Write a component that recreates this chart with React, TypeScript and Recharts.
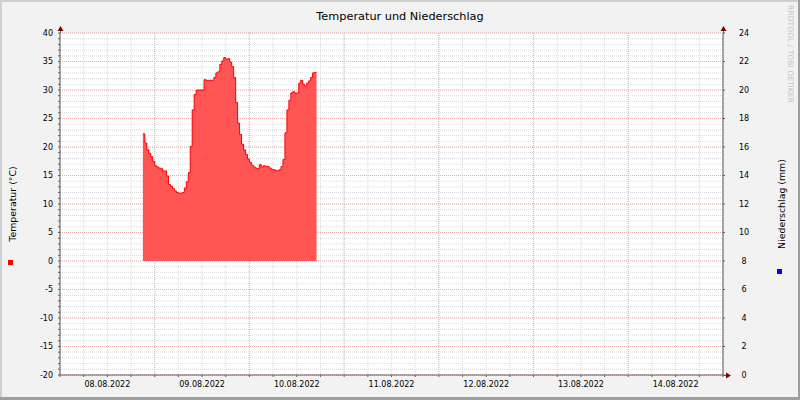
import React from 'react';
import { ComposedChart, Area, XAxis, YAxis, CartesianGrid } from 'recharts';

// hours since 08.08.2022 00:00, samples every 30 min
const SAMPLE_START_H = 21;
const SAMPLE_STEP_H = 0.5;

const temperatures = [
  22.3, 20.7, 19.5, 18.9, 18.3, 17.5, 16.7, 16.5, 16.3, 16.2,
  15.8, 15.8, 14.9, 13.4, 13.1, 12.7, 12.3, 12.0, 11.9, 11.9,
  12.0, 12.8, 13.9, 15.5, 20.1, 26.5, 29.2, 30.0, 30.0, 30.0,
  30.0, 31.8, 31.7, 31.7, 31.7, 31.7, 32.2, 33.0, 33.2, 34.5,
  35.1, 35.7, 35.4, 35.5, 34.9, 34.1, 32.2, 27.8, 24.2, 22.2,
  20.5, 19.5, 18.7, 17.9, 17.3, 16.8, 16.5, 16.3, 16.2, 16.9,
  16.5, 16.7, 16.6, 16.6, 16.3, 16.1, 16.0, 15.9, 15.8, 16.0,
  16.6, 17.8, 22.5, 26.5, 28.2, 29.5, 29.7, 29.4, 29.5, 31.2,
  31.7, 31.0, 30.7, 31.2, 31.6, 32.2, 33.0, 33.1, 33.1,
];

const dayLabels = ['08.08.2022', '09.08.2022', '10.08.2022', '11.08.2022', '12.08.2022', '13.08.2022', '14.08.2022'];

const tempMajorTicks = [-20, -15, -10, -5, 0, 5, 10, 15, 20, 25, 30, 35, 40];
const tempMinorTicks = [
  -20, -19, -18, -17, -16, -15, -14, -13, -12, -11, -10, -9, -8, -7, -6, -5, -4, -3, -2, -1,
  0, 1, 2, 3, 4, 5, 6, 7, 8, 9, 10, 11, 12, 13, 14, 15, 16, 17, 18, 19,
  20, 21, 22, 23, 24, 25, 26, 27, 28, 29, 30, 31, 32, 33, 34, 35, 36, 37, 38, 39, 40,
];
const rainTicks = [0, 2, 4, 6, 8, 10, 12, 14, 16, 18, 20, 22, 24];
const hourMinorTicks = [0, 6, 12, 18, 24, 30, 36, 42, 48, 54, 60, 66, 72, 78, 84, 90, 96, 102, 108, 114, 120, 126, 132, 138, 144, 150, 156, 162, 168];
const hourMajorTicks = [0, 24, 48, 72, 96, 120, 144, 168];

const data = temperatures.map((t, i) => ({ h: SAMPLE_START_H + i * SAMPLE_STEP_H, temp: t }));

const FONT = 'DejaVu Sans, sans-serif';
const AXIS = '#606060';
const ARROW = '#7f0000';

export default function App() {
  return (
    <div style={{ position: 'relative', width: 800, height: 400, background: '#f2f2f2' }}>
      <style>{'body{margin:0}'}</style>
      <ComposedChart width={800} height={400} data={data} margin={{ top: 33, right: 0, bottom: 0, left: 0 }}>
        <CartesianGrid
          fill="#ffffff"
          stroke="#dadada"
          strokeDasharray="1 1"
          horizontalValues={tempMinorTicks}
          verticalValues={hourMinorTicks}
        />
        <CartesianGrid
          stroke="#eeaaaa"
          strokeDasharray="1 1"
          horizontalValues={tempMajorTicks}
          verticalValues={hourMajorTicks}
        />
        <XAxis
          dataKey="h"
          type="number"
          domain={[0, 168]}
          ticks={hourMinorTicks}
          interval={0}
          height={25}
          tickSize={2}
          tickMargin={4}
          stroke={AXIS}
          tick={{ fontSize: 8, fill: '#000', fontFamily: FONT }}
          tickFormatter={(h: number) => (h % 24 === 12 ? dayLabels[(h - 12) / 24] : '')}
        />
        <YAxis
          domain={[-20, 40]}
          ticks={tempMinorTicks}
          interval={0}
          width={60}
          tickSize={2}
          tickMargin={5}
          stroke={AXIS}
          tick={{ fontSize: 8, fill: '#000', fontFamily: FONT }}
          tickFormatter={(v: number) => (v % 5 === 0 ? String(v) : '')}
        />
        <YAxis
          yAxisId="rain"
          orientation="right"
          domain={[0, 24]}
          ticks={rainTicks}
          interval={0}
          allowDataOverflow
          width={77}
          tickSize={2}
          tickMargin={19}
          stroke={AXIS}
          tick={{ fontSize: 8, fill: '#000', fontFamily: FONT, textAnchor: 'middle' }}
        />
        <Area
          type="stepAfter"
          dataKey="temp"
          baseValue={0}
          stroke="#ff0000"
          strokeWidth={1}
          fill="#ff5555"
          fillOpacity={1}
          dot={false}
          activeDot={false}
          isAnimationActive={false}
        />
      </ComposedChart>
      <svg width={800} height={400} style={{ position: 'absolute', left: 0, top: 0, pointerEvents: 'none' }}>
        <rect x={0} y={0} width={800} height={2} fill="#cfcfcf" />
        <rect x={0} y={0} width={2} height={400} fill="#cfcfcf" />
        <rect x={0} y={397} width={800} height={3} fill="#9e9e9e" />
        <rect x={798} y={0} width={2} height={400} fill="#9e9e9e" />
        <line x1={60.5} y1={28} x2={60.5} y2={33} stroke={AXIS} />
        <line x1={723.5} y1={28} x2={723.5} y2={33} stroke={AXIS} />
        <line x1={723} y1={375.5} x2={728} y2={375.5} stroke={AXIS} />
        <polygon points="60.5,26 57.5,31 63.5,31" fill={ARROW} />
        <polygon points="723.5,26 720.5,31 726.5,31" fill={ARROW} />
        <polygon points="731,375.5 726,372.5 726,378.5" fill={ARROW} />
        <text x={400} y={19.5} textAnchor="middle" fontSize={11.3} fontFamily={FONT} fill="#000">
          Temperatur und Niederschlag
        </text>
        <text
          transform="translate(16,204) rotate(-90)"
          textAnchor="middle"
          fontSize={9.4}
          fontFamily={FONT}
          fill="#000"
        >
          Temperatur (°C)
        </text>
        <rect x={8} y={260} width={5} height={5} fill="#ff0000" />
        <text
          transform="translate(785,204) rotate(-90)"
          textAnchor="middle"
          fontSize={9.4}
          fontFamily={FONT}
          fill="#000"
        >
          Niederschlag (mm)
        </text>
        <rect x={777} y={269} width={5} height={5} fill="#0000ff" />
        <text
          transform="translate(788,54) rotate(90)"
          textAnchor="middle"
          fontSize={7.6}
          fontFamily={FONT}
          fill="#c4c4c4"
        >
          RRDTOOL / TOBI OETIKER
        </text>
      </svg>
    </div>
  );
}
